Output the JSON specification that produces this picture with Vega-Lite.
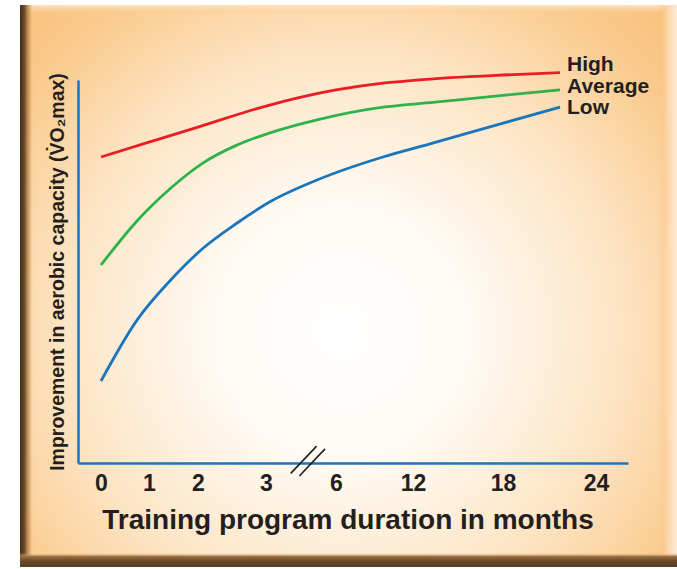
{
  "$schema": "https://vega.github.io/schema/vega-lite/v6.json",
  "width": 657,
  "height": 562,
  "autosize": {"type": "none"},
  "padding": {"left": 20, "top": 5, "right": 0, "bottom": 2},
  "background": "#ffffff",
  "config": {
    "font": "Liberation Sans",
    "view": {
      "stroke": null,
      "fill": {
        "gradient": "radial",
        "x1": 0.49, "y1": 0.57, "r1": 0,
        "x2": 0.49, "y2": 0.57, "r2": 0.76,
        "stops": [
          {"offset": 0, "color": "#FFFFFF"},
          {"offset": 0.25, "color": "#FFFBF5"},
          {"offset": 0.55, "color": "#FDE5C5"},
          {"offset": 0.8, "color": "#FAC98A"},
          {"offset": 1, "color": "#F8BC70"}
        ]
      }
    }
  },
  "datasets": {
    "curves": [
      {"series": "High", "month": 0, "value": 79.9},
      {"series": "High", "month": 1, "value": 83.8},
      {"series": "High", "month": 2, "value": 87.7},
      {"series": "High", "month": 3, "value": 93.2},
      {"series": "High", "month": 6, "value": 97.4},
      {"series": "High", "month": 9.66, "value": 99.2},
      {"series": "High", "month": 12, "value": 99.9},
      {"series": "High", "month": 14.47, "value": 100.6},
      {"series": "High", "month": 18, "value": 101.3},
      {"series": "High", "month": 21.68, "value": 101.9},
      {"series": "Average", "month": 0, "value": 51.7},
      {"series": "Average", "month": 0.75, "value": 63.2},
      {"series": "Average", "month": 1.43, "value": 71.6},
      {"series": "Average", "month": 2.07, "value": 78.3},
      {"series": "Average", "month": 2.57, "value": 83.0},
      {"series": "Average", "month": 3.17, "value": 86.2},
      {"series": "Average", "month": 5.19, "value": 89.6},
      {"series": "Average", "month": 9.66, "value": 92.9},
      {"series": "Average", "month": 13.13, "value": 94.1},
      {"series": "Average", "month": 18, "value": 96.0},
      {"series": "Average", "month": 21.68, "value": 97.4},
      {"series": "Low", "month": 0, "value": 21.4},
      {"series": "Low", "month": 0.75, "value": 37.3},
      {"series": "Low", "month": 1.43, "value": 47.6},
      {"series": "Low", "month": 2.07, "value": 56.0},
      {"series": "Low", "month": 2.57, "value": 62.6},
      {"series": "Low", "month": 3.17, "value": 68.2},
      {"series": "Low", "month": 5.19, "value": 73.9},
      {"series": "Low", "month": 9.66, "value": 79.9},
      {"series": "Low", "month": 13.13, "value": 83.3},
      {"series": "Low", "month": 17.6, "value": 88.3},
      {"series": "Low", "month": 21.68, "value": 92.9}
    ],
    "labels": [
      {"label": "High", "month": 21.68, "value": 103.9},
      {"label": "Average", "month": 21.68, "value": 98.2},
      {"label": "Low", "month": 21.68, "value": 92.7}
    ]
  },
  "layer": [
    {
      "data": {"name": "curves"},
      "mark": {"type": "line", "interpolate": "monotone", "strokeWidth": 2.8},
      "encoding": {
        "x": {
          "field": "month", "type": "quantitative",
          "scale": {"domain": [-0.48, 0, 1, 2, 3, 6, 12, 18, 24, 26.06], "range": [58, 81, 129, 178, 246, 316, 393, 483, 576, 608], "nice": false, "zero": false},
          "axis": {
            "values": [0, 1, 2, 3, 6, 12, 18, 24],
            "offset": -104,
            "title": "Training program duration in months",
            "grid": false, "ticks": false, "tickSize": 0,
            "domainColor": "#1B75BC", "domainWidth": 2.5,
            "labelFontSize": 23, "labelFontWeight": "bold", "labelColor": "#231F20",
            "labelPadding": 9, "labelFlush": false, "labelOverlap": false,
            "titleFontSize": 28, "titleFontWeight": "bold", "titleColor": "#231F20",
            "titlePadding": 11, "titleX": 327.5
          }
        },
        "y": {
          "field": "value", "type": "quantitative",
          "scale": {"domain": [0, 100], "range": [458, 75], "nice": false, "zero": false},
          "axis": {
            "offset": -58,
            "labels": false, "ticks": false, "tickSize": 0, "grid": false,
            "domainColor": "#1B75BC", "domainWidth": 2.5,
            "title": "Improvement in aerobic capacity (V̇O₂max)",
            "titleFontSize": 19.5, "titleFontWeight": "bold", "titleColor": "#231F20",
            "titlePadding": 11
          }
        },
        "color": {
          "field": "series", "type": "nominal",
          "scale": {"domain": ["High", "Average", "Low"], "range": ["#ED1C24", "#2DB34A", "#1B75BC"]},
          "legend": null
        }
      }
    },
    {
      "data": {"values": [{}]},
      "mark": {"type": "rect", "fill": {"gradient": "linear", "x1": 0, "y1": 0, "x2": 0, "y2": 1,
        "stops": [{"offset": 0, "color": "#FDE4C2"}, {"offset": 1, "color": "rgba(250,200,140,0)"}]}},
      "encoding": {
        "x": {"datum": -1.69}, "x2": {"datum": 29.22},
        "y": {"datum": 119.58}, "y2": {"datum": 117.0}
      }
    },
    {
      "data": {"values": [{}]},
      "mark": {"type": "rect", "fill": {"gradient": "linear", "x1": 0, "y1": 0, "x2": 1, "y2": 0,
        "stops": [{"offset": 0, "color": "rgba(250,190,120,0)"}, {"offset": 0.45, "color": "#FCD6A8"}, {"offset": 1, "color": "#FEEAD4"}]}},
      "encoding": {
        "x": {"datum": 28.06}, "x2": {"datum": 29.22},
        "y": {"datum": 119.58}, "y2": {"datum": -27.15}
      }
    },
    {
      "data": {"values": [{}]},
      "mark": {"type": "rect", "fill": {"gradient": "linear", "x1": 0, "y1": 0, "x2": 1, "y2": 0,
        "stops": [{"offset": 0, "color": "#3E2A14"}, {"offset": 0.35, "color": "#6E4E2C"}, {"offset": 0.75, "color": "rgba(190,135,75,0.5)"}, {"offset": 1, "color": "rgba(250,190,120,0)"}]}},
      "encoding": {
        "x": {"datum": -1.69}, "x2": {"datum": -1.42},
        "y": {"datum": 119.58}, "y2": {"datum": -27.15}
      }
    },
    {
      "data": {"values": [{}]},
      "mark": {"type": "rect", "fill": {"gradient": "linear", "x1": 0, "y1": 0, "x2": 0, "y2": 1,
        "stops": [{"offset": 0, "color": "rgba(250,190,120,0)"}, {"offset": 0.25, "color": "#9A7044"}, {"offset": 0.55, "color": "#6A4A2A"}, {"offset": 1, "color": "#5A3E22"}]}},
      "encoding": {
        "x": {"datum": -1.69}, "x2": {"datum": 29.22},
        "y": {"datum": -23.5}, "y2": {"datum": -27.15}
      }
    },
    {
      "data": {"name": "labels"},
      "mark": {"type": "text", "align": "left", "baseline": "middle", "dx": 7, "fontSize": 21, "fontWeight": "bold", "color": "#231F20"},
      "encoding": {
        "x": {"field": "month", "type": "quantitative"},
        "y": {"field": "value", "type": "quantitative"},
        "text": {"field": "label"}
      }
    },
    {
      "data": {"values": [{}]},
      "mark": {"type": "rule", "color": "#231F20", "strokeWidth": 1.6},
      "encoding": {
        "x": {"datum": 4.06}, "x2": {"datum": 5.17},
        "y": {"datum": -2.7}, "y2": {"datum": 4.4}
      }
    },
    {
      "data": {"values": [{}]},
      "mark": {"type": "rule", "color": "#231F20", "strokeWidth": 1.6},
      "encoding": {
        "x": {"datum": 4.43}, "x2": {"datum": 5.53},
        "y": {"datum": -3.4}, "y2": {"datum": 3.7}
      }
    }
  ]
}
